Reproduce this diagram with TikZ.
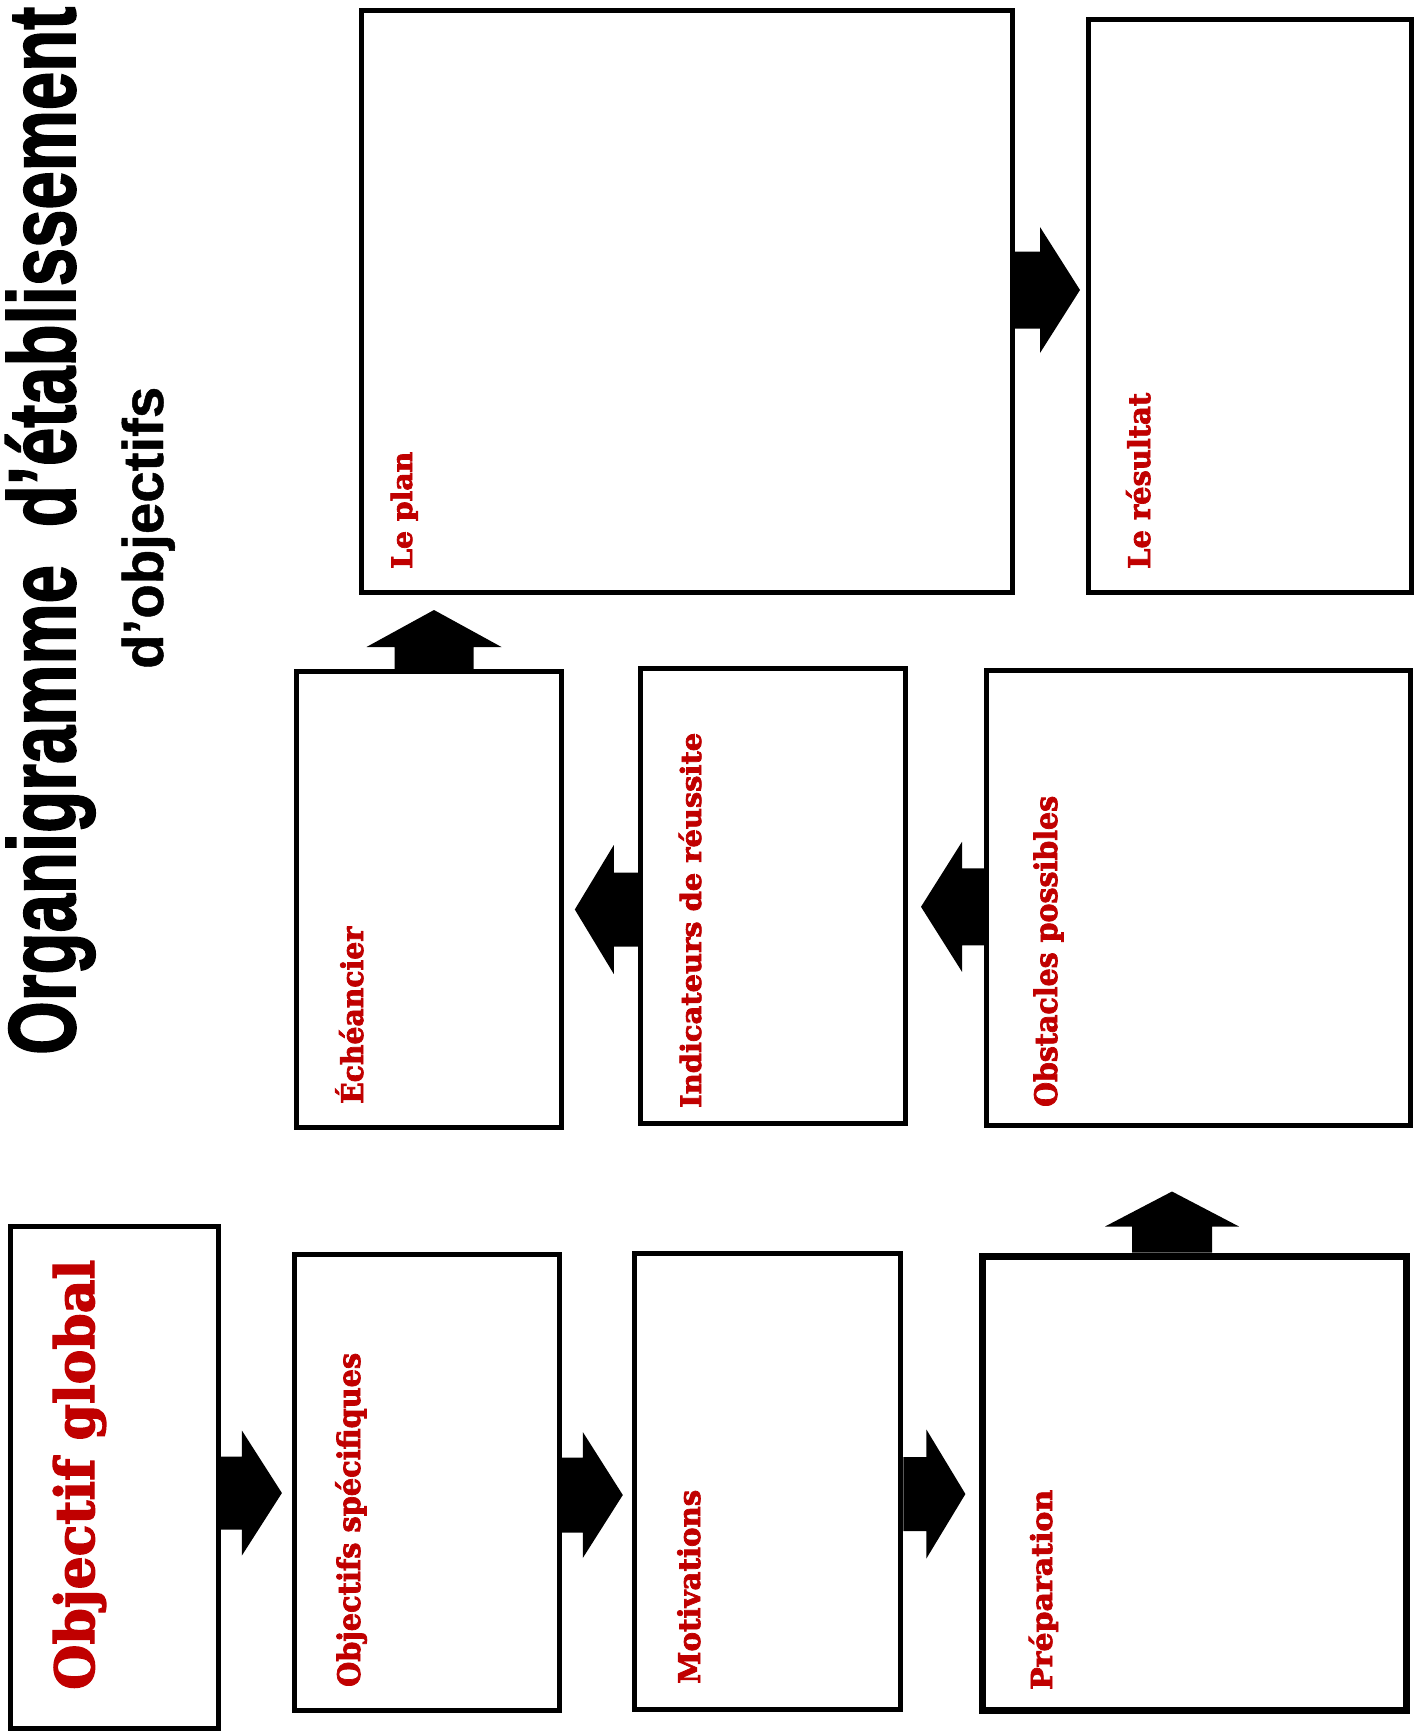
\documentclass[tikz,border=0pt]{standalone}
\usepackage{fontspec}
\usepackage{graphicx}
\setmainfont{Liberation Sans}[BoldFeatures={FakeBold=2}]
\newfontfamily\subfont{Liberation Sans}[BoldFeatures={FakeBold=0.8}]
\newfontfamily\labfont{DejaVu Serif}[BoldFeatures={FakeBold=2.5}]
\usetikzlibrary{calc}
\definecolor{labred}{RGB}{192,0,0}
\newcommand\fitto[2]{\resizebox{#1pt}{\height}{#2}}
\tikzset{
  box/.style n args={2}{draw=black, line width=5pt, fill=white, inner sep=0pt,
    minimum width=#1pt, minimum height=#2pt},
  lab/.style={rotate=90, anchor=base west, inner sep=0pt, text=labred,
    font=\labfont\bfseries\fontsize{#1}{#1}\selectfont},
  ttl/.style={rotate=90, anchor=base west, inner sep=0pt, text=black,
    font=\bfseries\fontsize{#1}{#1}\selectfont},
}
% #1 base coordinate, #2 angle, #3 length, #4 head length, #5 head half width, #6 shaft half width
\newcommand\blockarrow[6]{\fill[black, shift={(#1)}, rotate=#2]
  (0,-#6) -- ({#3-#4},-#6) -- ({#3-#4},-#5) -- (#3,0) -- ({#3-#4},#5)
  -- ({#3-#4},#6) -- (0,#6) -- cycle;}
\begin{document}
\begin{tikzpicture}[x=1pt,y=-1pt]
\useasboundingbox (0,0) rectangle (1424,1733);
\fill[white] (0,0) rectangle (1424,1733);

% title
\node[ttl=95] (title) at (75,1055) {\fitto{1048}{Organigramme\hspace{0.55em}d’établissement}};
\node[ttl=57, font=\subfont\bfseries\fontsize{57}{57}\selectfont] (subtitle) at (163,669) {\fitto{282}{d’objectifs}};

% boxes
\node[box={651}{582}] (plan) at (687,301.5) {};
\node[box={323}{573}] (res) at (1250,306) {};
\node[box={265}{456}] (ech) at (429,899.5) {};
\node[box={265}{455}] (ind) at (772.8,895.5) {};
\node[box={424}{455}] (obs) at (1198.5,897.8) {};
\node[box={208}{502}] (og) at (114.4,1477.5) {};
\node[box={265}{456}] (os) at (426.8,1482) {};
\node[box={266}{456}] (mot) at (767.9,1481) {};
\node[box={424}{454}, line width=7pt] (prep) at (1194,1483) {};

% labels
\node[lab=54] (tog) at (94,1690) {\fitto{430}{Objectif global}};
\node[lab=31] (tos) at (360,1687) {\fitto{334}{Objectifs spécifiques}};
\node[lab=30] (tmot) at (700,1684) {\fitto{194}{Motivations}};
\node[lab=29] (tprep) at (1052,1690) {\fitto{200}{Préparation}};
\node[lab=30] (tech) at (363,1104) {\fitto{177}{Échéancier}};
\node[lab=28] (tind) at (701,1108) {\fitto{375}{Indicateurs de réussite}};
\node[lab=31] (tobs) at (1057,1107) {\fitto{311}{Obstacles possibles}};
\node[lab=28] (tplan) at (412,569) {\fitto{117}{Le plan}};
\node[lab=30] (tres) at (1150,569) {\fitto{176}{Le résultat}};

% connectors (block arrows)
\coordinate (a1) at ($(og.east)+(0,15.5)$);
\coordinate (a2) at ($(os.east)+(0,13)$);
\coordinate (a3) at ($(mot.east)+(0,13)$);
\coordinate (a4) at ($(prep.north)+(-22,0)$);
\coordinate (a5) at ($(obs.west)+(0,9)$);
\coordinate (a6) at ($(ind.west)+(0,14)$);
\coordinate (a7) at ($(ech.north)+(5,0)$);
\coordinate (a8) at ($(plan.east)+(0,-11.5)$);
\blockarrow{a1}{0}{61}{40}{62.5}{36.5}
\blockarrow{a2}{0}{61}{40}{63}{37.5}
\blockarrow{a3}{0}{62}{39}{64.5}{37}
\blockarrow{a4}{90}{61}{35}{67}{40}
\blockarrow{a5}{180}{63}{41}{65}{38.5}
\blockarrow{a6}{180}{63}{39}{64.5}{37}
\blockarrow{a7}{90}{59}{37}{67.5}{39.5}
\blockarrow{a8}{0}{65}{40}{63}{38.5}
\end{tikzpicture}
\end{document}
